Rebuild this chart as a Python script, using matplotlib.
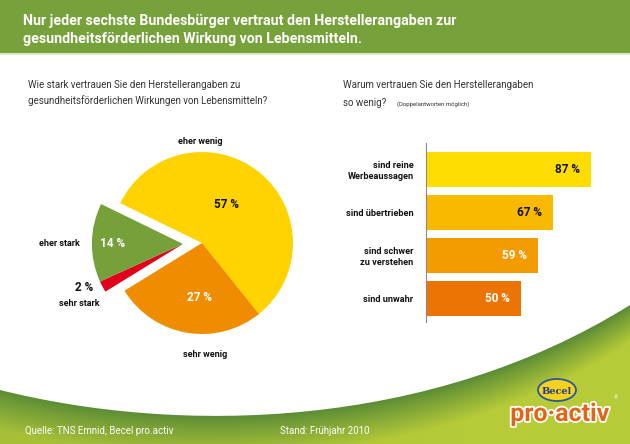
import numpy as np
import matplotlib
matplotlib.use('Agg')
import matplotlib.pyplot as plt
from matplotlib import font_manager
from matplotlib.path import Path
from matplotlib.patches import PathPatch, Rectangle, Ellipse
import matplotlib.patheffects as pe

# data
pie_labels = ['eher wenig', 'sehr wenig', 'sehr stark', 'eher stark']
pie_values = [57, 27, 2, 14]
pie_colors = ['#FFD200', '#F08C00', '#E2001A', '#76A03A']
pie_text_colors = ['#111111', 'white', '#111111', 'white']

bar_labels = ['sind reine\nWerbeaussagen', 'sind übertrieben', 'sind schwer\nzu verstehen', 'sind unwahr']
bar_values = [87, 67, 59, 50]
bar_colors = ['#FFDD00', '#F9B900', '#F39B00', '#EC7405']
bar_text_colors = ['#111111', '#111111', 'white', 'white']

title = ['Nur jeder sechste Bundesbürger vertraut den Herstellerangaben zur',
         'gesundheitsförderlichen Wirkung von Lebensmitteln.']
q_left = ['Wie stark vertrauen Sie den Herstellerangaben zu',
          'gesundheitsförderlichen Wirkungen von Lebensmitteln?']
q_right = ['Warum vertrauen Sie den Herstellerangaben', 'so wenig?']
q_right_note = '(Doppelantworten möglich)'
source = 'Quelle: TNS Emnid, Becel pro.activ'
stand = 'Stand: Frühjahr 2010'


def pick_font(names):
    for n in names:
        try:
            font_manager.findfont(n, fallback_to_default=False)
            return n
        except Exception:
            pass
    return 'DejaVu Sans'

body = pick_font(['Roboto', 'DejaVu Sans'])
plt.rcParams['font.family'] = body

W, H = 630, 444

def fig_box(x0, y0, x1, y1):
    # pixel box with top-left origin -> figure fraction
    return [x0 / W, 1 - y1 / H, (x1 - x0) / W, (y1 - y0) / H]

fig = plt.figure(figsize=(W / 100, H / 100), dpi=100)
fig.patch.set_facecolor('white')

# background layer in pixel coordinates
bg = fig.add_axes([0, 0, 1, 1], zorder=0)
bg.set_xlim(0, W)
bg.set_ylim(H, 0)
bg.axis('off')

# header band
bg.add_patch(Rectangle((0, 0), W, 53, color='#77A13B', lw=0))
bg.add_patch(Rectangle((0, 53), W, 2, color='#DCE8C4', lw=0))
bg.text(23, 25, title[0], color='white', fontsize=10.2, fontweight='bold', va='baseline')
bg.text(23, 43, title[1], color='white', fontsize=10.2, fontweight='bold', va='baseline')

# questions
bg.text(28, 88, q_left[0], fontsize=7, color='#333333', va='baseline')
bg.text(28, 104, q_left[1], fontsize=7, color='#333333', va='baseline')
bg.text(343, 88, q_right[0], fontsize=7, color='#333333', va='baseline')
bg.text(343, 106, q_right[1], fontsize=7, color='#333333', va='baseline')
bg.text(397, 106, q_right_note, fontsize=4.3, color='#333333', va='baseline')

# footer wave with gradient
p0, p1, p2, p3 = (0, 390), (180, 435), (430, 430), (630, 305)
verts = [p0, p1, p2, p3, (W, H), (0, H), p0]
codes = [Path.MOVETO, Path.CURVE4, Path.CURVE4, Path.CURVE4,
         Path.LINETO, Path.LINETO, Path.CLOSEPOLY]
wave = PathPatch(Path(verts, codes), fc='none', ec='none', transform=bg.transData)
bg.add_patch(wave)

tt = np.linspace(0, 1, 400)
bx = (1 - tt) ** 3 * p0[0] + 3 * (1 - tt) ** 2 * tt * p1[0] + 3 * (1 - tt) * tt ** 2 * p2[0] + tt ** 3 * p3[0]
by = (1 - tt) ** 3 * p0[1] + 3 * (1 - tt) ** 2 * tt * p1[1] + 3 * (1 - tt) * tt ** 2 * p2[1] + tt ** 3 * p3[1]
xs = np.arange(W)
ys = np.arange(290, H)
XX, YY = np.meshgrid(xs, ys)
curve = np.interp(XX, bx, by)
f = np.clip((YY - curve) / 40.0, 0, 1) ** 0.9
f = np.clip(f * (0.8 + 0.25 * XX / W), 0, 1)
dark = np.array([0.36, 0.55, 0.21])
light = np.array([0.72, 0.80, 0.22])
img = dark[None, None, :] * (1 - f[..., None]) + light[None, None, :] * f[..., None]
im = bg.imshow(img, extent=(0, W, H, 290), origin='upper', aspect='auto', zorder=1)
im.set_clip_path(wave)
bg.set_xlim(0, W)
bg.set_ylim(H, 0)

bg.text(25, 434, source, color='white', fontsize=7, va='baseline', zorder=3)
bg.text(280, 434, stand, color='white', fontsize=7, va='baseline', zorder=3)

# logo
bg.add_patch(Ellipse((557, 390), 38, 22, fc='#F6D31B', ec='#2A55A5', lw=1.3, zorder=3))
bg.text(557, 391, 'Becel', color='#1E3E8C', fontsize=7, fontweight='bold',
        ha='center', va='center', zorder=4, family='DejaVu Serif')
bg.text(560, 421, 'pro·activ', color='#E0661C', fontsize=18, fontweight='bold',
        ha='center', va='baseline', zorder=4,
        path_effects=[pe.withStroke(linewidth=2.5, foreground='white')])
bg.text(614, 399, '®', color='white', fontsize=4, zorder=4)

# pie chart
R, cx, cy = 91, 202, 243
pax = fig.add_axes(fig_box(cx - 1.5 * R, cy - 1.5 * R, cx + 1.5 * R, cy + 1.5 * R), zorder=2)
start = 154
wedges, _ = pax.pie(pie_values, colors=pie_colors, startangle=start, counterclock=False,
                    radius=1, wedgeprops=dict(linewidth=0))
# pull the two "stark" slices out together
tot = sum(pie_values)
a_from = start - 360 * sum(pie_values[:2]) / tot
a_to = start - 360
mid = np.deg2rad((a_from + a_to) / 2)
shift = 0.21
for w in wedges[2:]:
    w.set_center((shift * np.cos(mid), shift * np.sin(mid)))
pax.set_xlim(-1.5, 1.5)
pax.set_ylim(-1.5, 1.5)
pax.axis('off')

lab_font = dict(fontsize=6.5, fontweight='bold', color='#111111')
pct_font = dict(fontsize=8.5, fontweight='bold')
pax.text(-0.02, 1.11, pie_labels[0], ha='center', va='center', **lab_font)
pax.text(0.27, 0.42, f'{pie_values[0]} %', ha='center', va='center', color=pie_text_colors[0], **pct_font)
pax.text(0.03, -1.22, pie_labels[1], ha='center', va='center', **lab_font)
pax.text(-0.03, -0.60, f'{pie_values[1]} %', ha='center', va='center', color=pie_text_colors[1], **pct_font)
pax.text(-1.19, -0.49, f'{pie_values[2]} %', ha='right', va='center', color=pie_text_colors[2], **pct_font)
pax.text(-1.13, -0.67, pie_labels[2], ha='right', va='center', **lab_font)
pax.text(-0.98, -0.01, f'{pie_values[3]} %', ha='center', va='center', color=pie_text_colors[3], **pct_font)
pax.text(-1.34, -0.01, pie_labels[3], ha='right', va='center', **lab_font)

# bar chart
px_per_pct = 1.893
bax = fig.add_axes(fig_box(426, 143, 426 + px_per_pct * 100, 322), zorder=2)
pos = np.arange(len(bar_values))
bax.barh(pos, bar_values, height=0.81, color=bar_colors, lw=0)
bax.set_xlim(0, 100)
bax.set_ylim(3.547, -0.616)
bax.set_facecolor('none')
for s in ['top', 'right', 'bottom']:
    bax.spines[s].set_visible(False)
bax.spines['left'].set_color('#8A8A8A')
bax.spines['left'].set_linewidth(0.8)
bax.set_xticks([])
bax.set_yticks(pos)
bax.set_yticklabels(bar_labels, fontsize=6.6, fontweight='bold', color='#111111', linespacing=1.25)
bax.tick_params(axis='y', length=0, pad=9)
for i, v in enumerate(bar_values):
    bax.text(v - 5.8, i, f'{v} %', ha='right', va='center', fontsize=8.5,
             fontweight='bold', color=bar_text_colors[i])

fig.savefig('out.png', dpi=100)
